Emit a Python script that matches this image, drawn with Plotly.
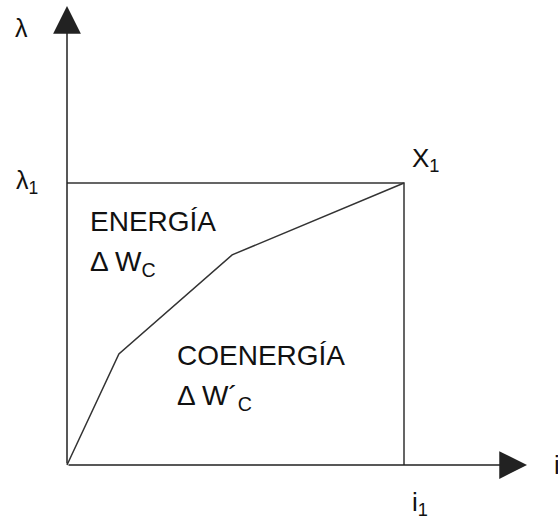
import plotly.graph_objects as go

# Data (normalised: i1 = 1, lambda1 = 1)
i1 = 1.0
lam1 = 1.0
curve_i = [0.0, 0.154, 0.490, 1.0]
curve_lam = [0.0, 0.394, 0.745, 1.0]
rect_i = [0.0, i1, i1]
rect_lam = [lam1, lam1, 0.0]
axis_tip_i = 1.365
axis_tip_lam = 1.628

line_col = "#333333"
font_fam = "Liberation Sans, Arial, sans-serif"

fig = go.Figure()
fig.add_trace(go.Scatter(x=rect_i, y=rect_lam, mode="lines",
                         line=dict(color=line_col, width=1.5), hoverinfo="skip"))
fig.add_trace(go.Scatter(x=curve_i, y=curve_lam, mode="lines",
                         line=dict(color=line_col, width=1.5), hoverinfo="skip"))

ann = []
# axes arrows
ann.append(dict(x=axis_tip_i, y=0, ax=0, ay=0, xref="x", yref="y",
                axref="x", ayref="y", text="", showarrow=True, arrowhead=2,
                arrowsize=3.7, arrowwidth=1.5, arrowcolor="#222222"))
ann.append(dict(x=0, y=axis_tip_lam, ax=0, ay=0, xref="x", yref="y",
                axref="x", ayref="y", text="", showarrow=True, arrowhead=2,
                arrowsize=3.7, arrowwidth=1.5, arrowcolor="#222222"))

def label(text, x, y, size, xanchor="left", yanchor="middle", xshift=0, yshift=0):
    ann.append(dict(x=x, y=y, xref="x", yref="y", text=text, showarrow=False,
                    xanchor=xanchor, yanchor=yanchor, xshift=xshift, yshift=yshift,
                    font=dict(family=font_fam, size=size, color="#111111")))

label("λ", -0.135, 1.55, 25, xanchor="center")
label("λ<sub>1</sub>", -0.118, lam1, 25, xanchor="center", yshift=1)
label("X<sub>1</sub>", i1, lam1, 26, xanchor="left", yanchor="bottom", xshift=6, yshift=5)
label("i<sub>1</sub>", i1, 0, 26, xanchor="center", yanchor="top", xshift=16, yshift=-20)
label("i", 1.44, 0, 26, xanchor="left")
label("ENERGÍA", 0.062, 0.865, 28)
label("Δ W<sub>C</sub>", 0.062, 0.715, 28)
label("COENERGÍA", 0.32, 0.39, 28)
label("Δ W´<sub>C</sub>", 0.32, 0.24, 28)

fig.update_layout(
    width=558, height=519,
    margin=dict(l=0, r=0, t=0, b=0),
    paper_bgcolor="white", plot_bgcolor="white",
    showlegend=False,
    xaxis=dict(range=[-0.19881, 1.45697], visible=False, fixedrange=True),
    yaxis=dict(range=[-0.19149, 1.64894], visible=False, fixedrange=True),
    annotations=ann,
)
fig.write_html("out.html", config={"displayModeBar": False},
               post_script="document.body.style.margin='0';")
